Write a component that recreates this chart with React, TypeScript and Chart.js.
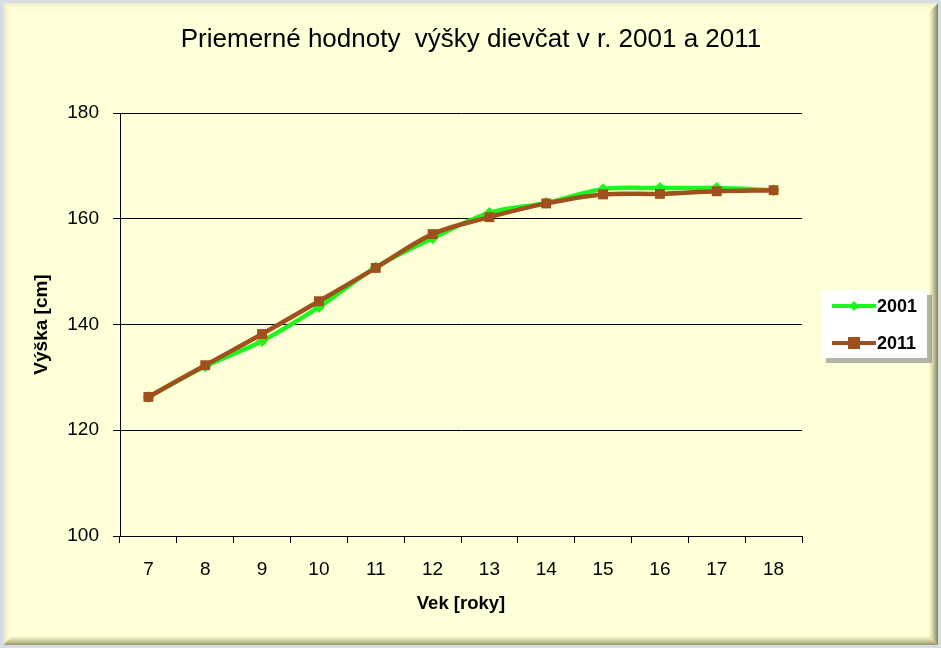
import React, { useEffect, useRef } from "react";
import { Chart, registerables } from "chart.js";

Chart.register(...registerables);

const ages = ["7", "8", "9", "10", "11", "12", "13", "14", "15", "16", "17", "18"];
const heights2001 = [126.3, 132.1, 136.9, 143.3, 150.8, 156.3, 161.1, 163.0, 165.6, 165.8, 165.8, 165.4];
const heights2011 = [126.3, 132.3, 138.2, 144.4, 150.7, 157.1, 160.3, 162.9, 164.6, 164.7, 165.2, 165.4];
const seriesNames = ["2001", "2011"];
const yTicks = [100, 120, 140, 160, 180];
const chartTitle = "Priemerné hodnoty  výšky dievčat v r. 2001 a 2011";
const xTitle = "Vek [roky]";
const yTitle = "Výška [cm]";

const GREEN = "#1EF51E";
const BROWN = "#A0501C";
const BG = "#FFFFD8";
const FONT = "'Liberation Sans', Arial, sans-serif";

const framePlugin = {
  id: "frame",
  beforeDraw(chart: any) {
    const { ctx, width, height } = chart;
    ctx.save();
    ctx.fillStyle = "#D6DCE4";
    ctx.fillRect(0, 0, width, height);
    ctx.fillStyle = BG;
    ctx.fillRect(3, 3, width - 6, height - 6);
    let g = ctx.createLinearGradient(width - 12, 0, width - 3, 0);
    g.addColorStop(0, "rgba(160,160,110,0)");
    g.addColorStop(1, "rgba(130,130,90,1)");
    ctx.fillStyle = g;
    ctx.beginPath();
    ctx.moveTo(width - 12, 12);
    ctx.lineTo(width - 3, 3);
    ctx.lineTo(width - 3, height - 3);
    ctx.lineTo(width - 12, height - 12);
    ctx.closePath();
    ctx.fill();
    g = ctx.createLinearGradient(0, height - 12, 0, height - 3);
    g.addColorStop(0, "rgba(170,170,120,0)");
    g.addColorStop(1, "rgba(150,150,100,1)");
    ctx.fillStyle = g;
    ctx.beginPath();
    ctx.moveTo(3, height - 3);
    ctx.lineTo(12, height - 12);
    ctx.lineTo(width - 12, height - 12);
    ctx.lineTo(width - 3, height - 3);
    ctx.closePath();
    ctx.fill();
    g = ctx.createLinearGradient(0, 3, 0, 12);
    g.addColorStop(0, "rgba(235,235,200,1)");
    g.addColorStop(1, "rgba(255,255,216,0)");
    ctx.fillStyle = g;
    ctx.beginPath();
    ctx.moveTo(3, 3);
    ctx.lineTo(width - 3, 3);
    ctx.lineTo(width - 12, 12);
    ctx.lineTo(12, 12);
    ctx.closePath();
    ctx.fill();
    g = ctx.createLinearGradient(3, 0, 12, 0);
    g.addColorStop(0, "rgba(225,225,190,1)");
    g.addColorStop(1, "rgba(255,255,216,0)");
    ctx.fillStyle = g;
    ctx.beginPath();
    ctx.moveTo(3, 3);
    ctx.lineTo(12, 12);
    ctx.lineTo(12, height - 12);
    ctx.lineTo(3, height - 3);
    ctx.closePath();
    ctx.fill();
    ctx.fillStyle = "#000";
    ctx.font = "26px " + FONT;
    ctx.textAlign = "center";
    ctx.textBaseline = "middle";
    ctx.fillText(chartTitle, 471, 40);
    ctx.restore();
  },
  afterDraw(chart: any) {
    const { ctx } = chart;
    const x0 = 821, y0 = 290, w = 106, h = 68;
    ctx.save();
    ctx.fillStyle = "rgba(120,120,120,0.55)";
    ctx.fillRect(x0 + 5, y0 + 5, w, h);
    ctx.fillStyle = "#FFFFFF";
    ctx.fillRect(x0, y0, w, h);
    const cols = [GREEN, BROWN];
    const ys = [y0 + 16, y0 + 53];
    ctx.font = "bold 18px " + FONT;
    ctx.textBaseline = "middle";
    ctx.textAlign = "left";
    seriesNames.forEach((name, i) => {
      const y = ys[i];
      ctx.strokeStyle = cols[i];
      ctx.lineWidth = 4;
      ctx.beginPath();
      ctx.moveTo(x0 + 11, y);
      ctx.lineTo(x0 + 55, y);
      ctx.stroke();
      ctx.fillStyle = cols[i];
      const cx = x0 + 33;
      if (i === 0) {
        ctx.beginPath();
        ctx.moveTo(cx, y - 5);
        ctx.lineTo(cx + 5, y);
        ctx.lineTo(cx, y + 5);
        ctx.lineTo(cx - 5, y);
        ctx.closePath();
        ctx.fill();
      } else {
        ctx.fillRect(cx - 6, y - 6, 12, 12);
      }
      ctx.fillStyle = "#000";
      ctx.fillText(name, x0 + 56, y + 1);
    });
    ctx.restore();
  },
};

export default function App() {
  const ref = useRef<HTMLCanvasElement>(null);
  useEffect(() => {
    document.body.style.margin = "0";
    const chart = new Chart(ref.current!, {
      type: "line",
      data: {
        labels: ages,
        datasets: [
          {
            label: seriesNames[0],
            data: heights2001,
            borderColor: GREEN,
            backgroundColor: GREEN,
            borderWidth: 4.5,
            pointStyle: "rectRot",
            pointRadius: 6,
            pointBorderWidth: 0,
            tension: 0.35,
            order: 1,
          },
          {
            label: seriesNames[1],
            data: heights2011,
            borderColor: BROWN,
            backgroundColor: BROWN,
            borderWidth: 4.5,
            pointStyle: "rect",
            pointRadius: 7,
            pointBorderWidth: 0,
            tension: 0.35,
            order: 0,
          },
        ],
      },
      options: {
        responsive: false,
        animation: false,
        layout: { padding: { top: 113, right: 139, left: 0, bottom: 0 } },
        plugins: {
          legend: { display: false },
          title: { display: false },
          tooltip: { enabled: false },
        },
        scales: {
          x: {
            offset: true,
            grid: {
              offset: true,
              drawOnChartArea: false,
              drawTicks: true,
              tickLength: 7,
              color: "#000",
            },
            border: { color: "#000", width: 1 },
            ticks: {
              color: "#000",
              padding: 15,
              font: { family: FONT, size: 19 },
            },
            title: {
              display: true,
              text: xTitle,
              color: "#000",
              font: { family: FONT, size: 18.5, weight: "bold" },
              padding: { top: 0, bottom: 33 },
            },
            afterFit(scale: any) {
              scale.height = 112;
            },
          },
          y: {
            min: 100,
            max: 180,
            afterBuildTicks(scale: any) {
              scale.ticks = yTicks.map((v) => ({ value: v }));
            },
            grid: {
              color: "#000",
              lineWidth: 1,
              tickLength: 7,
            },
            border: { color: "#000", width: 1 },
            ticks: {
              color: "#000",
              padding: 14,
              font: { family: FONT, size: 19 },
            },
            title: {
              display: true,
              text: yTitle,
              color: "#000",
              font: { family: FONT, size: 19, weight: "bold" },
              padding: { top: 30, bottom: 0 },
            },
            afterFit(scale: any) {
              scale.width = 120;
            },
          },
        },
      },
      plugins: [framePlugin],
    });
    return () => chart.destroy();
  }, []);
  return (
    <div style={{ position: "fixed", left: 0, top: 0, width: 941, height: 648 }}>
      <canvas ref={ref} width={941} height={648} style={{ width: 941, height: 648 }} />
    </div>
  );
}
